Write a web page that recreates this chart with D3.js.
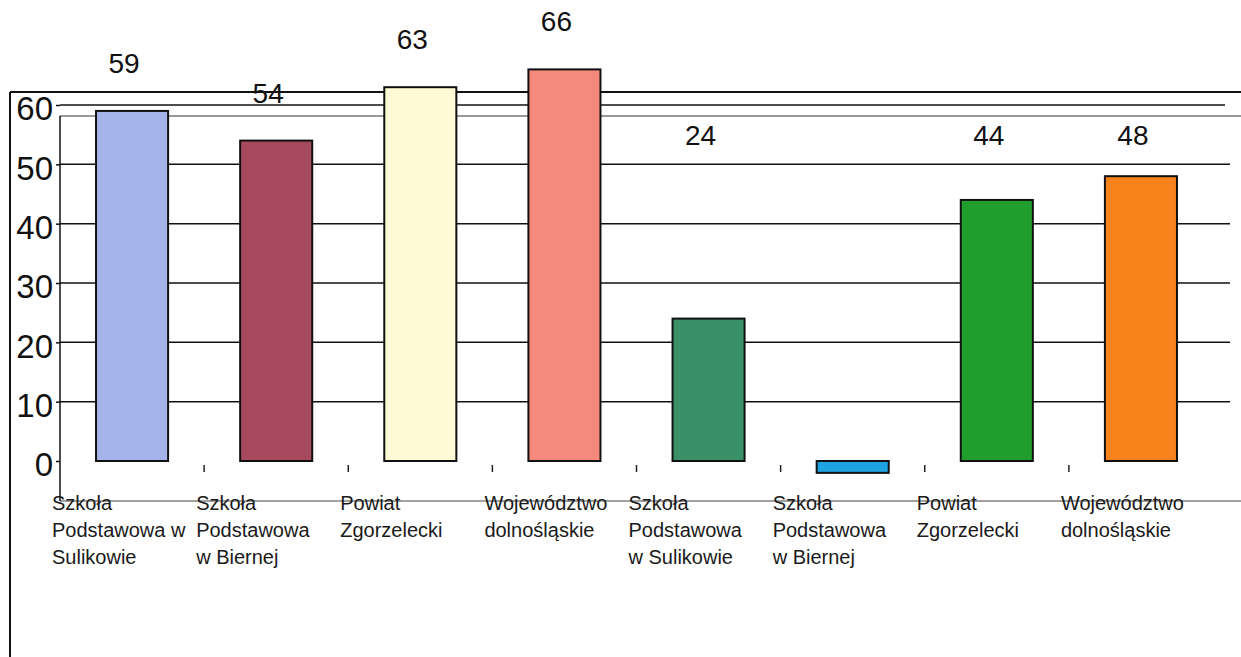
<!DOCTYPE html>
<html>
<head>
<meta charset="utf-8">
<script src="https://cdn.jsdelivr.net/npm/d3@7"></script>
<style>
  body { margin: 0; background: #fff; }
  svg { display: block; font-family: "Liberation Sans", Arial, sans-serif; }
</style>
</head>
<body>
<svg></svg>
<script>
// chart data
const categories = [
  ['Szkoła', 'Podstawowa w', 'Sulikowie'],
  ['Szkoła', 'Podstawowa', 'w Biernej'],
  ['Powiat', 'Zgorzelecki'],
  ['Województwo', 'dolnośląskie'],
  ['Szkoła', 'Podstawowa', 'w Sulikowie'],
  ['Szkoła', 'Podstawowa', 'w Biernej'],
  ['Powiat', 'Zgorzelecki'],
  ['Województwo', 'dolnośląskie']
];
const values = [59, 54, 63, 66, 24, -2, 44, 48];
const colors = ['#a4b4ea', '#a84a5e', '#fffad6', '#f58a7c', '#3a9168', '#1ea2e2', '#1f9e2e', '#f8821c'];
const yTicks = [0, 10, 20, 30, 40, 50, 60];

const width = 1241;
const height = 657;

const svg = d3.select('svg')
  .attr('width', width)
  .attr('height', height);

const x = d3.scaleBand()
  .domain(d3.range(values.length))
  .range([60, 1213])
  .paddingInner(0.5)
  .paddingOuter(0.25);

const y = d3.scaleLinear()
  .domain([0, 60])
  .range([461, 105]);

const step = x.step();
const gap = step - x.bandwidth();

// frame lines
svg.append('line')
  .attr('x1', 10).attr('x2', width)
  .attr('y1', 92).attr('y2', 92)
  .attr('stroke', '#111').attr('stroke-width', 2);
svg.append('line')
  .attr('x1', 10).attr('x2', 10)
  .attr('y1', 92).attr('y2', height)
  .attr('stroke', '#111').attr('stroke-width', 2);
svg.append('line')
  .attr('x1', 60).attr('x2', width)
  .attr('y1', 116).attr('y2', 116)
  .attr('stroke', '#999').attr('stroke-width', 2);
svg.append('line')
  .attr('x1', 60).attr('x2', width)
  .attr('y1', 501).attr('y2', 501)
  .attr('stroke', '#444').attr('stroke-width', 1.2);

// gridlines
svg.append('g')
  .attr('class', 'grid')
  .selectAll('line')
  .data(yTicks.filter(d => d > 0))
  .enter().append('line')
    .attr('x1', 60)
    .attr('x2', d => d === 60 ? 1225 : 1230)
    .attr('y1', d => y(d))
    .attr('y2', d => y(d))
    .attr('stroke', '#111')
    .attr('stroke-width', 1.5);

// y axis
const yAxis = d3.axisLeft(y)
  .tickValues(yTicks)
  .tickSize(4)
  .tickFormat(d3.format('d'));

const yg = svg.append('g')
  .attr('transform', 'translate(60,0)')
  .call(yAxis);
yg.select('.domain').remove();
yg.selectAll('.tick line').attr('stroke', '#111').attr('stroke-width', 1.5);
yg.selectAll('.tick text')
  .attr('x', -7)
  .attr('dy', '0.45em')
  .attr('fill', '#111')
  .style('font-size', '33px')
  .style('font-family', '"Liberation Sans", Arial, sans-serif');

svg.append('line')
  .attr('x1', 60).attr('x2', 60)
  .attr('y1', 116).attr('y2', 501)
  .attr('stroke', '#111').attr('stroke-width', 1.5);

// bars
svg.append('g')
  .attr('class', 'bars')
  .selectAll('rect')
  .data(values)
  .enter().append('rect')
    .attr('x', (d, i) => x(i))
    .attr('width', x.bandwidth())
    .attr('y', d => y(Math.max(0, d)))
    .attr('height', d => Math.abs(y(d) - y(0)))
    .attr('fill', (d, i) => colors[i])
    .attr('stroke', '#111')
    .attr('stroke-width', 2);

// category separator ticks
svg.append('g')
  .selectAll('line')
  .data(d3.range(1, values.length))
  .enter().append('line')
    .attr('x1', i => x(i) - gap / 2)
    .attr('x2', i => x(i) - gap / 2)
    .attr('y1', y(0) + 4)
    .attr('y2', y(0) + 11)
    .attr('stroke', '#222')
    .attr('stroke-width', 1.5);

// value labels: first group above bars, second group on a common row
svg.append('g')
  .attr('class', 'labels')
  .selectAll('text')
  .data(values)
  .enter().filter(d => d > 0).append('text')
    .attr('x', d => x(values.indexOf(d)) + x.bandwidth() / 2 - 8)
    .attr('y', d => values.indexOf(d) < 4 ? y(d) - 48 : y(55))
    .attr('dy', '0.36em')
    .attr('text-anchor', 'middle')
    .attr('fill', '#111')
    .style('font-size', '28px')
    .text(d => d);

// category labels
const cat = svg.append('g')
  .attr('class', 'categories')
  .selectAll('text')
  .data(categories)
  .enter().append('text')
    .attr('x', (d, i) => x(i) - gap / 2 - 8)
    .attr('y', 510)
    .attr('fill', '#1a1a1a')
    .style('font-size', '20px');

cat.selectAll('tspan')
  .data(d => d)
  .enter().append('tspan')
    .attr('x', function () { return this.parentNode.getAttribute('x'); })
    .attr('dy', (d, j) => j === 0 ? 0 : 27)
    .text(d => d);
</script>
</body>
</html>
